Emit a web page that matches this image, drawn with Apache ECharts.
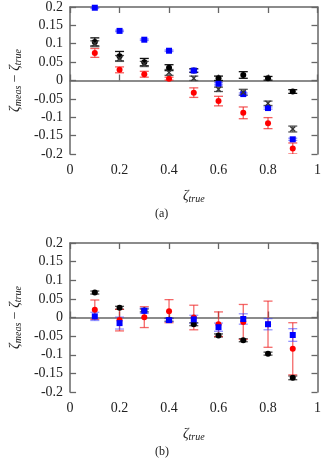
<!DOCTYPE html>
<html>
<head>
<meta charset="utf-8">
<script src="https://cdn.jsdelivr.net/npm/echarts@6/dist/echarts.min.js"></script>
<style>
html,body{margin:0;padding:0;background:#fff;}
#c{width:324px;height:458px;}
</style>
</head>
<body>
<div id="c"></div>
<script>
// ---- data ----
const xTrue = [0.1, 0.2, 0.3, 0.4, 0.5, 0.6, 0.7, 0.8, 0.9];
const xTicks = [0, 0.2, 0.4, 0.6, 0.8, 1];
const yTicks = [-0.2, -0.15, -0.1, -0.05, 0, 0.05, 0.1, 0.15, 0.2];

// panel (a)
const blackA    = [0.105, 0.066, 0.050, 0.035, 0.027, 0.006, 0.015, 0.006, -0.030];
const blackAErr = [0.011, 0.013, 0.010, 0.008, 0.005, 0.006, 0.009, 0.005, 0.005];
const grayA     = [0.100, 0.060, 0.045, 0.022, 0.006, -0.024, -0.032, -0.062, -0.132];
const grayAErr  = [0.008, 0.008, 0.007, 0.008, 0.006, 0.006, 0.008, 0.006, 0.008];
const blueA     = [0.198, 0.135, 0.111, 0.081, 0.027, -0.009, -0.037, -0.075, -0.160];
const blueAErr  = [0.002, 0.002, 0.002, 0.002, 0.003, 0.003, 0.003, 0.003, 0.003];
const redA      = [0.075, 0.029, 0.017, 0.005, -0.033, -0.056, -0.088, -0.116, -0.185];
const redAErr   = [0.012, 0.008, 0.008, 0.004, 0.013, 0.013, 0.016, 0.015, 0.015];

// panel (b)
const blackB    = [0.067, 0.026, 0.019, -0.006, -0.018, -0.048, -0.061, -0.097, -0.162];
const blackBErr = [0.004, 0.004, 0.004, 0.004, 0.004, 0.004, 0.004, 0.004, 0.005];
const blueB     = [0.003, -0.015, 0.018, -0.007, -0.005, -0.026, -0.004, -0.018, -0.047];
const blueBErr  = [0.011, 0.016, 0.007, 0.004, 0.011, 0.011, 0.014, 0.015, 0.017];
const redB      = [0.021, -0.007, 0.001, 0.017, 0.000, -0.018, -0.012, -0.018, -0.084];
const redBErr   = [0.026, 0.029, 0.028, 0.031, 0.033, 0.033, 0.047, 0.062, 0.070];

// ---- chart ----
const FONT = 'Liberation Serif';
const axisCol = '#666';

function pts(vals) { return xTrue.map((x, i) => [x, vals[i]]); }
function errPts(vals, errs) { return xTrue.map((x, i) => [x, vals[i], errs[i]]); }

function errSeries(idx, vals, errs, color, width) {
  return {
    type: 'custom', xAxisIndex: idx * 2, yAxisIndex: idx * 2, clip: true, silent: true,
    data: errPts(vals, errs),
    renderItem: function (params, api) {
      const x = api.value(0), y = api.value(1), e = api.value(2);
      const p1 = api.coord([x, y + e]);
      const p2 = api.coord([x, y - e]);
      const h = 4.5;
      const st = { stroke: color, lineWidth: width || 1.2 };
      return {
        type: 'group',
        children: [
          { type: 'line', shape: { x1: p1[0], y1: p1[1], x2: p2[0], y2: p2[1] }, style: st },
          { type: 'line', shape: { x1: p1[0] - h, y1: p1[1], x2: p1[0] + h, y2: p1[1] }, style: st },
          { type: 'line', shape: { x1: p2[0] - h, y1: p2[1], x2: p2[0] + h, y2: p2[1] }, style: st }
        ]
      };
    }
  };
}

function markSeries(idx, vals, color, symbol, size) {
  return {
    type: 'scatter', xAxisIndex: idx * 2, yAxisIndex: idx * 2, clip: true, silent: true,
    symbol: symbol, symbolSize: size, itemStyle: { color: color, opacity: 1 },
    data: pts(vals)
  };
}

const xSym = 'path://M0,1.5L1.5,0L5,3.5L8.5,0L10,1.5L6.5,5L10,8.5L8.5,10L5,6.5L1.5,10L0,8.5L3.5,5Z';

const grids = [
  { left: 68, top: 5.5, width: 251, height: 148.5 },
  { left: 68, top: 243, width: 251, height: 149 }
];

const yName = {
  rich: {
    z: { fontFamily: FONT, fontStyle: 'italic', fontSize: 14, color: '#222' },
    s: { fontFamily: FONT, fontStyle: 'italic', fontSize: 10, color: '#222', padding: [6, 0, 0, 0] },
    m: { fontFamily: FONT, fontSize: 14, color: '#222' }
  }
};

function makeAxes(gi) {
  const xa = [
    {
      type: 'value', gridIndex: gi, min: 0, max: 1, interval: 0.2, position: 'bottom',
      name: '{z|ζ}{s|true}', nameLocation: 'middle', nameGap: 34,
      nameTextStyle: yName,
      axisLine: { show: true, lineStyle: { color: axisCol, width: 1.5 } },
      axisTick: { inside: true, length: 6, lineStyle: { color: axisCol, width: 1.3 } },
      axisLabel: { margin: 9, fontFamily: FONT, fontSize: 14, color: '#222' },
      splitLine: { show: false }
    },
    {
      type: 'value', gridIndex: gi, min: 0, max: 1, interval: 0.2, position: 'top',
      axisLine: { show: true, onZero: false, lineStyle: { color: axisCol, width: 1.5 } },
      axisTick: { inside: true, length: 6, lineStyle: { color: axisCol, width: 1.3 } },
      axisLabel: { show: false }, splitLine: { show: false }
    }
  ];
  const ya = [
    {
      type: 'value', gridIndex: gi, min: -0.2, max: 0.2, interval: 0.05, position: 'left',
      name: '{z|ζ}{s|meas}{m| − }{z|ζ}{s|true}', nameLocation: 'middle', nameGap: 37,
      nameTextStyle: yName,
      axisLine: { show: true, onZero: false, lineStyle: { color: axisCol, width: 1.5 } },
      axisTick: { inside: true, length: 6, lineStyle: { color: axisCol, width: 1.3 } },
      axisLabel: { margin: 7, fontFamily: FONT, fontSize: 14, color: '#222' },
      splitLine: { show: false }
    },
    {
      type: 'value', gridIndex: gi, min: -0.2, max: 0.2, interval: 0.05, position: 'right',
      axisLine: { show: true, onZero: false, lineStyle: { color: axisCol, width: 1.5 } },
      axisTick: { inside: true, length: 6, lineStyle: { color: axisCol, width: 1.3 } },
      axisLabel: { show: false }, splitLine: { show: false }
    }
  ];
  return { xa, ya };
}

const a0 = makeAxes(0), a1 = makeAxes(1);

const option = {
  animation: false,
  backgroundColor: '#fff',
  grid: grids,
  xAxis: [...a0.xa, ...a1.xa],
  yAxis: [...a0.ya, ...a1.ya],
  graphic: [
    { type: 'text', left: 155, top: 208, style: { text: '(a)', fontFamily: FONT, fontSize: 12, fill: '#222' } },
    { type: 'text', left: 155, top: 446, style: { text: '(b)', fontFamily: FONT, fontSize: 12, fill: '#222' } }
  ],
  series: [
    // panel a
    errSeries(0, blackA, blackAErr, '#111', 1.3),
    errSeries(0, grayA, grayAErr, '#555', 1.3),
    errSeries(0, redA, redAErr, 'rgba(240,40,40,0.75)', 1.3),
    errSeries(0, blueA, blueAErr, 'rgba(60,60,255,0.6)', 1.3),
    markSeries(0, redA, '#f00', 'circle', 6),
    markSeries(0, blackA, '#000', 'circle', 6),
    markSeries(0, blueA, '#0000ff', 'rect', 6),
    markSeries(0, grayA, '#333', xSym, 6),
    // panel b
    errSeries(1, blackB, blackBErr, 'rgba(30,30,30,0.8)', 1.3),
    errSeries(1, redB, redBErr, 'rgba(240,40,40,0.7)', 1.3),
    errSeries(1, blueB, blueBErr, 'rgba(60,60,255,0.55)', 1.3),
    markSeries(1, blackB, '#000', 'circle', 6),
    markSeries(1, redB, '#f00', 'circle', 6),
    markSeries(1, blueB, '#0000ff', 'rect', 6)
  ]
};

const chart = echarts.init(document.getElementById('c'), null, { renderer: 'canvas' });
chart.setOption(option);
</script>
</body>
</html>
